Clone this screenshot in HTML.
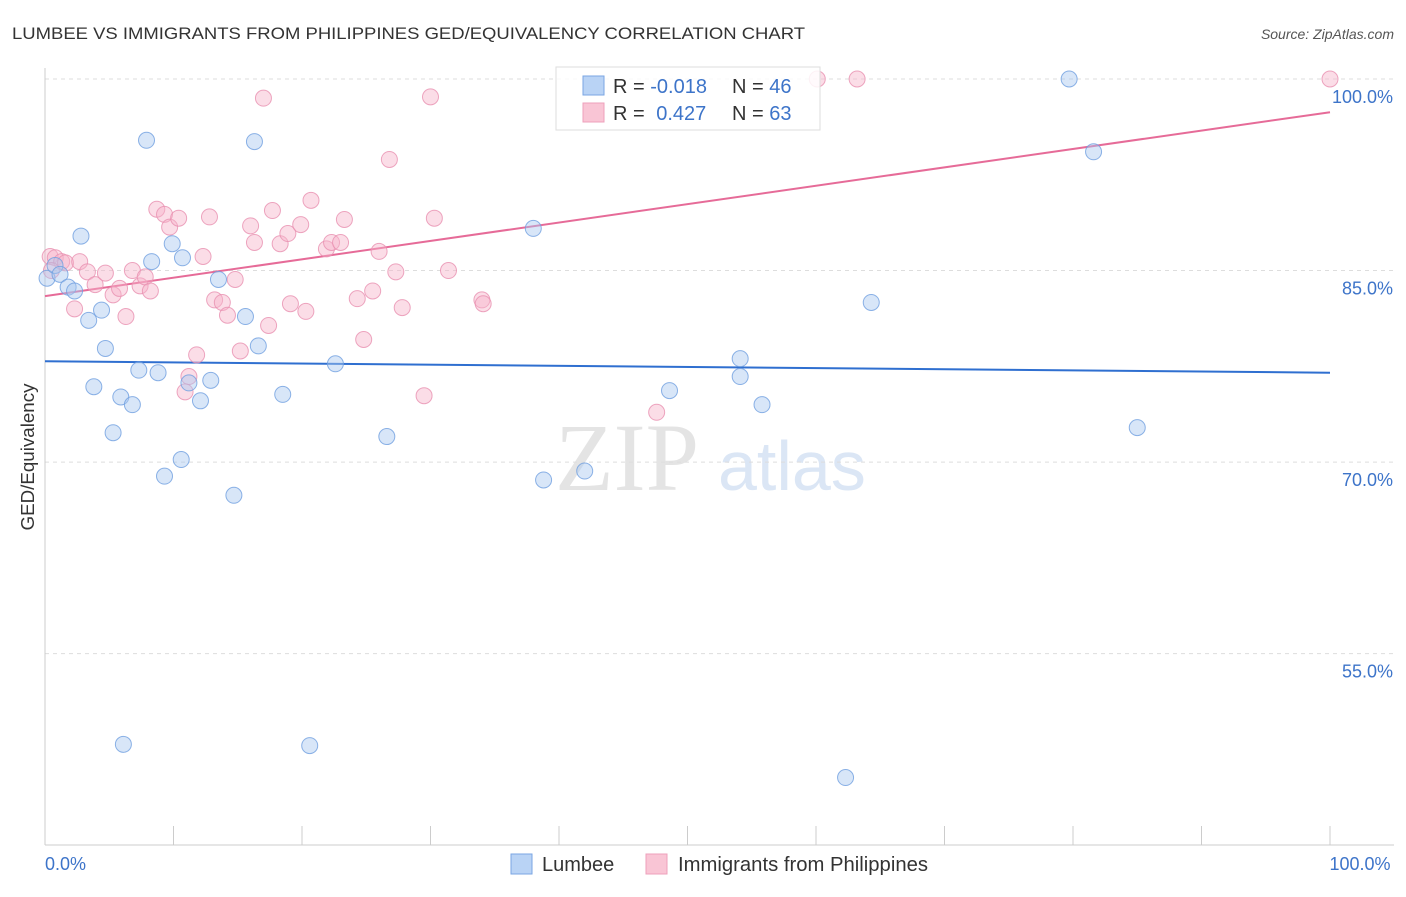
<!DOCTYPE html>
<html><head><meta charset="utf-8"><style>
body{margin:0;background:#fff;font-family:"Liberation Sans",sans-serif}
</style></head><body>
<svg id="chart" width="1406" height="892" xmlns="http://www.w3.org/2000/svg" font-family="Liberation Sans, sans-serif">
<text x="12" y="39" font-size="17" fill="#333" textLength="793" lengthAdjust="spacingAndGlyphs">LUMBEE VS IMMIGRANTS FROM PHILIPPINES GED/EQUIVALENCY CORRELATION CHART</text>
<text x="1394" y="39" font-size="14" fill="#555" text-anchor="end" font-style="italic">Source: ZipAtlas.com</text>
<g>
<text x="555" y="490" font-size="96" font-family="Liberation Serif, serif" fill="#e4e4e4">ZIP</text>
<text x="718" y="490" font-size="70" fill="#dbe6f5">atlas</text>
</g>
<g id="grid"></g>
<g id="axes"></g>
<text transform="translate(34,457) rotate(-90)" font-size="18" fill="#333" text-anchor="middle" textLength="147" lengthAdjust="spacingAndGlyphs">GED/Equivalency</text>
<g id="lines"></g>
<g id="points"></g>
<g>
<rect x="556" y="67" width="264" height="63" fill="#fff" fill-opacity="0.85" stroke="#ddd"/>
<rect x="583" y="76" width="21" height="19" fill="#b9d3f5" stroke="#7aa6e3"/>
<rect x="583" y="103" width="21" height="19" fill="#f9c5d5" stroke="#eea0bb"/>
<text x="613" y="93" font-size="20" fill="#333">R = <tspan fill="#3d74c9">-0.018</tspan></text>
<text x="732" y="93" font-size="20" fill="#333">N = <tspan fill="#3d74c9">46</tspan></text>
<text x="613" y="120" font-size="20" fill="#333">R = <tspan fill="#3d74c9" dx="6">0.427</tspan></text>
<text x="732" y="120" font-size="20" fill="#333">N = <tspan fill="#3d74c9">63</tspan></text>
</g>
<g>
<rect x="511" y="854" width="21" height="20" fill="#b9d3f5" stroke="#7aa6e3"/>
<text x="542" y="871" font-size="20" fill="#333">Lumbee</text>
<rect x="646" y="854" width="21" height="20" fill="#f9c5d5" stroke="#eea0bb"/>
<text x="678" y="871" font-size="20" fill="#333" textLength="250" lengthAdjust="spacingAndGlyphs">Immigrants from Philippines</text>
</g>
</svg>
<script>
const blueX=[0.16,0.78,1.17,1.8,2.3,2.8,3.4,4.4,4.7,3.8,5.3,5.9,6.1,6.8,7.3,7.9,8.3,8.8,9.3,9.9,10.6,10.7,11.2,12.1,12.9,13.5,14.7,15.6,16.3,16.6,18.5,20.6,22.6,26.6,38.0,38.8,42.0,48.6,54.1,54.1,55.8,62.3,64.3,79.7,81.6,85.0];
const blueY=[84.4,85.4,84.7,83.7,83.4,87.7,81.1,81.9,78.9,75.9,72.3,75.1,47.9,74.5,77.2,95.2,85.7,77.0,68.9,87.1,70.2,86.0,76.2,74.8,76.4,84.3,67.4,81.4,95.1,79.1,75.3,47.8,77.7,72.0,88.3,68.6,69.3,75.6,78.1,76.7,74.5,45.3,82.5,100,94.3,72.7];
const pinkX=[0.4,0.8,1.3,1.6,0.5,2.3,2.7,3.3,3.9,4.7,5.3,5.8,6.3,6.8,7.4,7.8,8.2,8.7,9.3,9.7,10.4,11.2,10.9,11.8,12.3,12.8,13.2,13.8,14.2,14.8,15.2,16.0,16.3,17.0,17.4,17.7,18.3,18.9,19.1,19.9,20.3,20.7,21.9,22.3,23.0,23.3,24.3,24.8,25.5,26.0,26.8,27.3,27.8,29.5,30.0,30.3,31.4,34.0,34.1,47.6,60.1,63.2,100];
const pinkY=[86.1,86.0,85.7,85.6,85.0,82.0,85.7,84.9,83.9,84.8,83.1,83.6,81.4,85.0,83.8,84.5,83.4,89.8,89.4,88.4,89.1,76.7,75.5,78.4,86.1,89.2,82.7,82.5,81.5,84.3,78.7,88.5,87.2,98.5,80.7,89.7,87.1,87.9,82.4,88.6,81.8,90.5,86.7,87.2,87.2,89.0,82.8,79.6,83.4,86.5,93.7,84.9,82.1,75.2,98.6,89.1,85.0,82.7,82.4,73.9,100,100,100];
const blueTrend=[77.9,77.0];
const pinkTrend=[83.0,97.4];
const yTicks=[100,85,70,55];
const yTickLabels=["100.0%","85.0%","70.0%","55.0%"];
const xEndLabels=["0.0%","100.0%"];
const NS="http://www.w3.org/2000/svg";
const xs=v=>45+v*12.85;
const ys=v=>79+(100-v)*12.77;
function mk(t,a,p){const e=document.createElementNS(NS,t);for(const k in a)e.setAttribute(k,a[k]);p.appendChild(e);return e;}
const grid=document.getElementById('grid'),axes=document.getElementById('axes');
yTicks.forEach((t,i)=>{
 const l=mk('line',{x1:45,x2:1394,y1:ys(t),y2:ys(t),stroke:'#ddd','stroke-dasharray':'4,4'},grid);
 
 
 const tx=mk('text',{x:1393,y:ys(t)+24,'font-size':18,fill:'#3d74c9','text-anchor':'end'},axes);
 tx.textContent=yTickLabels[i];
 
 
});
let ax=mk('line',{x1:45,x2:45,y1:68,y2:845,stroke:'#ccc'},axes);


ax=mk('line',{x1:45,x2:1394,y1:845,y2:845,stroke:'#ccc'},axes);


for(let i=0;i<=10;i++){
 const t=mk('line',{x1:xs(i*10),x2:xs(i*10),y1:826,y2:845,stroke:'#ccc'},axes);
 
 
}
[[0,'start',xEndLabels[0]],[100,'middle',xEndLabels[1]]].forEach(([v,a,s])=>{
 const t=mk('text',{x:v==0?45:xs(v)+30,y:870,'font-size':18,fill:'#3d74c9','text-anchor':a},axes);
 t.textContent=s;
 
 
});
const pts=document.getElementById('points');
function series(X,Y,fill,stroke,name){X.forEach((x,i)=>{
 const c=mk('circle',{cx:xs(x),cy:ys(Y[i]),r:8,fill:fill,'fill-opacity':0.45,stroke:stroke,'stroke-opacity':0.8,'stroke-width':1},pts);
 
 
});}
series(pinkX,pinkY,'#f7b3c9','#e890b0','philippines-point');
series(blueX,blueY,'#a9c8f0','#6f9fe0','lumbee-point');
const lines=document.getElementById('lines');
let tl=mk('line',{x1:xs(0),x2:xs(100),y1:ys(blueTrend[0]),y2:ys(blueTrend[1]),stroke:'#2f6fd0','stroke-width':2},lines);


tl=mk('line',{x1:xs(0),x2:xs(100),y1:ys(pinkTrend[0]),y2:ys(pinkTrend[1]),stroke:'#e66b98','stroke-width':2},lines);


</script>
</body></html>
